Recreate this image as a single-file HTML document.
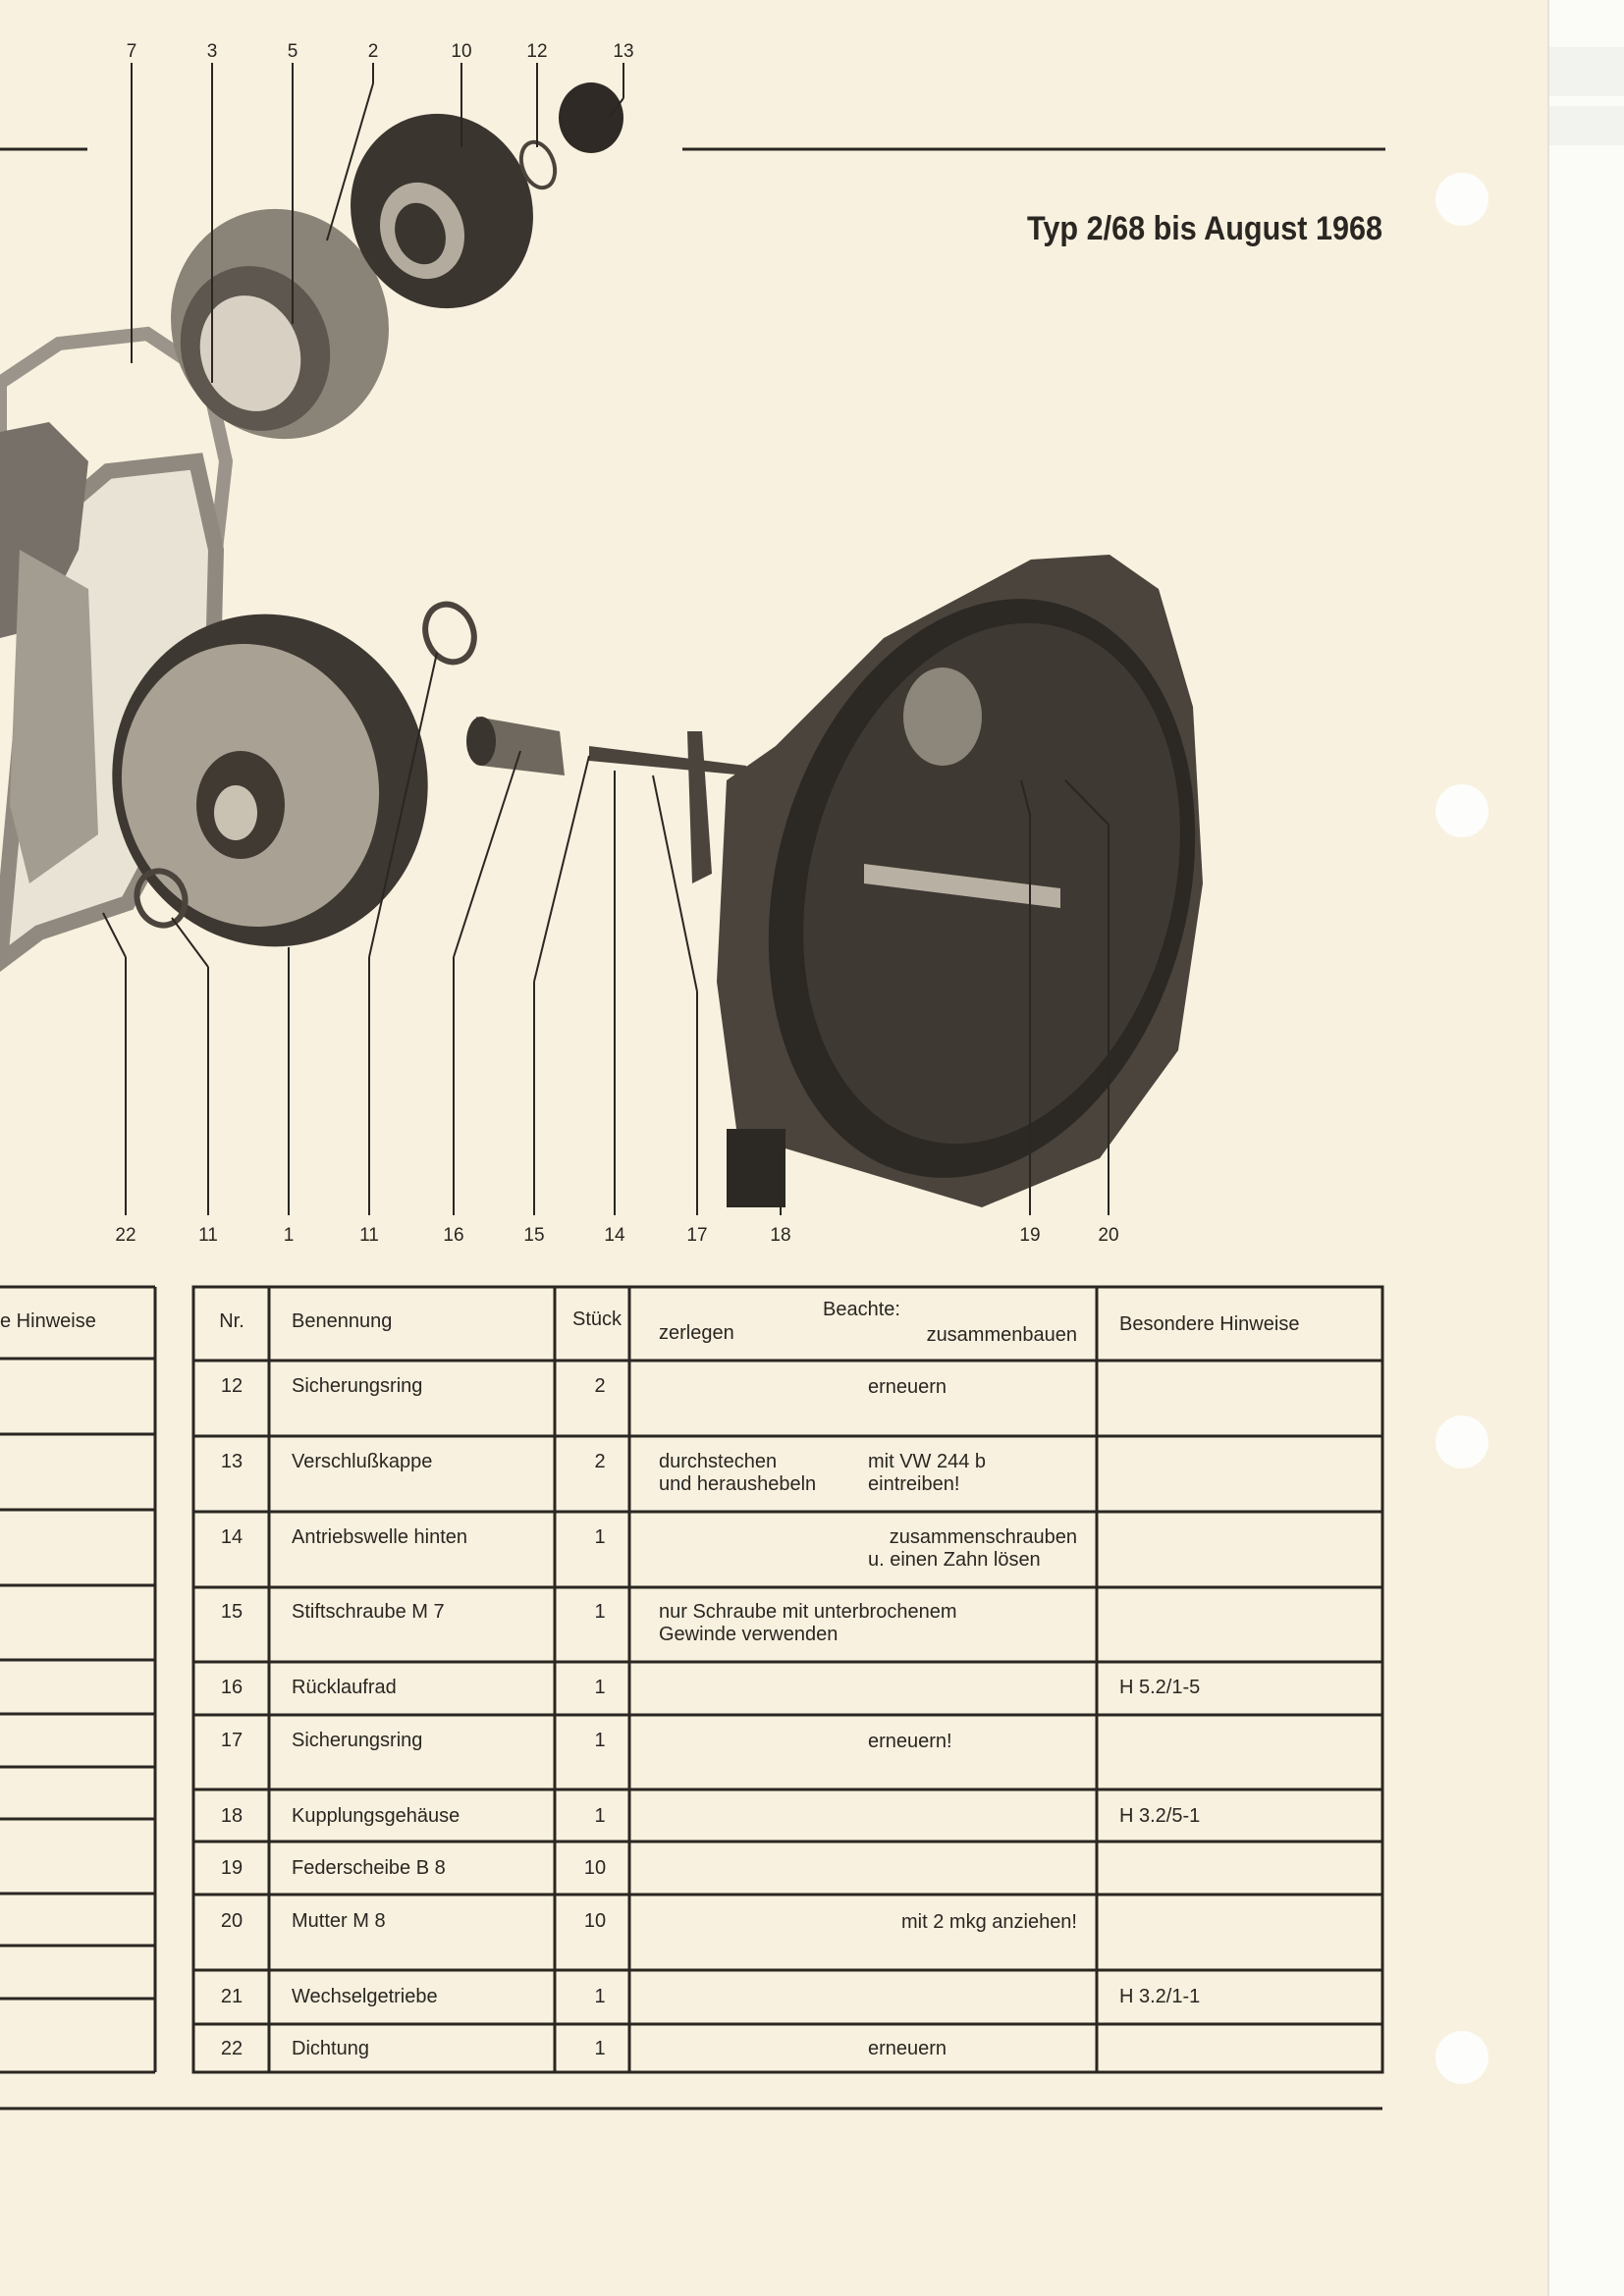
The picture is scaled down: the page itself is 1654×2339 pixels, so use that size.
<!DOCTYPE html>
<html><head><meta charset="utf-8"><style>
html,body{margin:0;padding:0;}
body{width:1654px;height:2339px;overflow:hidden;background:#f8f1df;}
svg{display:block;}
text{font-family:"Liberation Sans",sans-serif;fill:#2a2622;}
</style></head><body>
<svg width="1654" height="2339" viewBox="0 0 1654 2339" xmlns="http://www.w3.org/2000/svg">
<rect x="0" y="0" width="1654" height="2339" fill="#f8f1df"/>
<rect x="1577" y="0" width="77" height="2339" fill="#fbfbf8"/>
<rect x="1577" y="48" width="77" height="50" fill="#f2f2ee"/>
<rect x="1577" y="108" width="77" height="40" fill="#f2f2ee"/>
<line x1="1577" y1="0" x2="1577" y2="2339" stroke="#e8e2d4" stroke-width="2"/>
<circle cx="1489" cy="203" r="27" fill="#fdfdfb"/>
<circle cx="1489" cy="826" r="27" fill="#fdfdfb"/>
<circle cx="1489" cy="1469" r="27" fill="#fdfdfb"/>
<circle cx="1489" cy="2096" r="27" fill="#fdfdfb"/>

<!-- top rules -->
<line x1="0" y1="152" x2="89" y2="152" stroke="#2a2622" stroke-width="3"/>
<line x1="695" y1="152" x2="1411" y2="152" stroke="#2a2622" stroke-width="3"/>
<text x="1408" y="244" font-size="34" font-weight="bold" text-anchor="end" textLength="362" lengthAdjust="spacingAndGlyphs">Typ 2/68 bis August 1968</text>

<!-- drawing: parts -->
<g>
 <!-- gaskets left -->
 <path d="M0,390 L60,350 L150,340 L210,380 L230,470 L220,560 L200,620 L130,640 L60,630 L0,620 Z" fill="none" stroke="#9a948a" stroke-width="14"/>
 <path d="M0,980 L40,540 L110,480 L200,470 L220,560 L215,760 L130,920 L40,950 Z" fill="#e9e3d6" stroke="#8f897f" stroke-width="16"/>
 <path d="M0,440 L50,430 L90,470 L80,560 L40,640 L0,650 Z" fill="#777068"/>
 <path d="M20,560 L90,600 L100,850 L30,900 L10,820 Z" fill="#a39c90"/>
 <!-- cover 5 -->
 <ellipse cx="285" cy="330" rx="110" ry="118" fill="#8a8378" transform="rotate(-20 285 330)"/>
 <ellipse cx="260" cy="355" rx="75" ry="85" fill="#5e574f" transform="rotate(-20 260 355)"/>
 <ellipse cx="255" cy="360" rx="50" ry="60" fill="#d8d1c3" transform="rotate(-20 255 360)"/>
 <!-- cover 10 -->
 <ellipse cx="450" cy="215" rx="92" ry="100" fill="#3a352f" transform="rotate(-20 450 215)"/>
 <ellipse cx="430" cy="235" rx="42" ry="50" fill="#b3ab9e" transform="rotate(-20 430 235)"/>
 <ellipse cx="428" cy="238" rx="25" ry="32" fill="#3a352f" transform="rotate(-20 428 238)"/>
 <!-- ring 12, cap 13 -->
 <ellipse cx="548" cy="168" rx="16" ry="24" fill="none" stroke="#4a443d" stroke-width="4" transform="rotate(-20 548 168)"/>
 <ellipse cx="602" cy="120" rx="33" ry="36" fill="#2f2a25"/>
 <!-- differential 1 -->
 <ellipse cx="275" cy="795" rx="160" ry="170" fill="#3e3832" transform="rotate(-15 275 795)"/>
 <ellipse cx="255" cy="800" rx="130" ry="145" fill="#a8a194" transform="rotate(-15 255 800)"/>
 <ellipse cx="245" cy="820" rx="45" ry="55" fill="#403a33"/>
 <ellipse cx="240" cy="828" rx="22" ry="28" fill="#c9c1b2"/>
 <!-- rings 11 -->
 <ellipse cx="458" cy="645" rx="24" ry="30" fill="none" stroke="#4a443d" stroke-width="6" transform="rotate(-20 458 645)"/>
 <ellipse cx="164" cy="915" rx="24" ry="28" fill="none" stroke="#4a443d" stroke-width="6" transform="rotate(-20 164 915)"/>
 <!-- gear 16 -->
 <path d="M485,730 L570,745 L575,790 L490,780 Z" fill="#6f685e"/>
 <ellipse cx="490" cy="755" rx="15" ry="25" fill="#3a352f"/>
 <!-- shaft 14/17 -->
 <path d="M600,760 L760,780 L760,790 L600,775 Z" fill="#4a443d"/>
 <path d="M700,745 L715,745 L725,890 L705,900 Z" fill="#4a443d"/>
 <!-- bell housing -->
 <path d="M740,795 L790,760 L900,650 L1050,570 L1130,565 L1180,600 L1215,720 L1225,900 L1200,1070 L1120,1180 L1000,1230 L900,1200 L800,1170 L750,1150 L730,1000 Z" fill="#4a443d"/>
 <ellipse cx="1000" cy="905" rx="210" ry="300" fill="#2c2823" transform="rotate(15 1000 905)"/>
 <ellipse cx="1010" cy="900" rx="185" ry="270" fill="#3f3933" transform="rotate(15 1010 900)"/>
 <path d="M880,880 L1080,905 L1080,925 L880,900 Z" fill="#b8b0a2"/>
 <ellipse cx="960" cy="730" rx="40" ry="50" fill="#8d867a"/>
 <rect x="740" y="1150" width="60" height="80" fill="#2c2823"/>
</g>

<!-- leader lines -->
<g stroke="#2a2622" stroke-width="2" fill="none">
 <line x1="134" y1="64" x2="134" y2="370"/>
 <line x1="216" y1="64" x2="216" y2="390"/>
 <line x1="298" y1="64" x2="298" y2="330"/>
 <line x1="380" y1="64" x2="380" y2="85"/><line x1="380" y1="85" x2="333" y2="245"/>
 <line x1="470" y1="64" x2="470" y2="150"/>
 <line x1="547" y1="64" x2="547" y2="150"/>
 <line x1="635" y1="64" x2="635" y2="100"/><line x1="635" y1="100" x2="620" y2="120"/>
 <line x1="128" y1="1238" x2="128" y2="975"/><line x1="128" y1="975" x2="105" y2="930"/>
 <line x1="212" y1="1238" x2="212" y2="985"/><line x1="212" y1="985" x2="175" y2="935"/>
 <line x1="294" y1="1238" x2="294" y2="965"/>
 <line x1="376" y1="1238" x2="376" y2="975"/><line x1="376" y1="975" x2="445" y2="665"/>
 <line x1="462" y1="1238" x2="462" y2="975"/><line x1="462" y1="975" x2="530" y2="765"/>
 <line x1="544" y1="1238" x2="544" y2="1000"/><line x1="544" y1="1000" x2="600" y2="770"/>
 <line x1="626" y1="1238" x2="626" y2="785"/>
 <line x1="710" y1="1238" x2="710" y2="1010"/><line x1="710" y1="1010" x2="665" y2="790"/>
 <line x1="795" y1="1238" x2="795" y2="1170"/>
 <line x1="1049" y1="1238" x2="1049" y2="830"/><line x1="1049" y1="830" x2="1040" y2="795"/>
 <line x1="1129" y1="1238" x2="1129" y2="840"/><line x1="1129" y1="840" x2="1085" y2="795"/>
</g>
<g font-size="19" text-anchor="middle">
 <text x="134" y="58">7</text><text x="216" y="58">3</text><text x="298" y="58">5</text><text x="380" y="58">2</text><text x="470" y="58">10</text><text x="547" y="58">12</text><text x="635" y="58">13</text>
 <text x="128" y="1264">22</text><text x="212" y="1264">11</text><text x="294" y="1264">1</text><text x="376" y="1264">11</text><text x="462" y="1264">16</text><text x="544" y="1264">15</text><text x="626" y="1264">14</text><text x="710" y="1264">17</text><text x="795" y="1264">18</text><text x="1049" y="1264">19</text><text x="1129" y="1264">20</text>
</g>

<!-- left partial table -->
<g stroke="#2a2622" stroke-width="3">
 <line x1="0" y1="1311" x2="158" y2="1311"/>
 <line x1="158" y1="1311" x2="158" y2="2111"/>
 <line x1="0" y1="2111" x2="158" y2="2111"/>
 <line x1="0" y1="1384" x2="158" y2="1384"/>
 <line x1="0" y1="1461" x2="158" y2="1461"/>
 <line x1="0" y1="1538" x2="158" y2="1538"/>
 <line x1="0" y1="1615" x2="158" y2="1615"/>
 <line x1="0" y1="1691" x2="158" y2="1691"/>
 <line x1="0" y1="1746" x2="158" y2="1746"/>
 <line x1="0" y1="1800" x2="158" y2="1800"/>
 <line x1="0" y1="1853" x2="158" y2="1853"/>
 <line x1="0" y1="1929" x2="158" y2="1929"/>
 <line x1="0" y1="1982" x2="158" y2="1982"/>
 <line x1="0" y1="2036" x2="158" y2="2036"/>
</g>
<text x="0" y="1352" font-size="20">e Hinweise</text>

<!-- main table -->
<g stroke="#2a2622" stroke-width="3" fill="none">
 <rect x="197" y="1311" width="1211" height="800"/>
 <line x1="274" y1="1311" x2="274" y2="2111"/>
 <line x1="565" y1="1311" x2="565" y2="2111"/>
 <line x1="641" y1="1311" x2="641" y2="2111"/>
 <line x1="1117" y1="1311" x2="1117" y2="2111"/>
 <line x1="197" y1="1386" x2="1408" y2="1386"/>
 <line x1="197" y1="1463" x2="1408" y2="1463"/>
 <line x1="197" y1="1540" x2="1408" y2="1540"/>
 <line x1="197" y1="1617" x2="1408" y2="1617"/>
 <line x1="197" y1="1693" x2="1408" y2="1693"/>
 <line x1="197" y1="1747" x2="1408" y2="1747"/>
 <line x1="197" y1="1823" x2="1408" y2="1823"/>
 <line x1="197" y1="1876" x2="1408" y2="1876"/>
 <line x1="197" y1="1930" x2="1408" y2="1930"/>
 <line x1="197" y1="2007" x2="1408" y2="2007"/>
 <line x1="197" y1="2062" x2="1408" y2="2062"/>
 <line x1="0" y1="2148" x2="1408" y2="2148"/>
</g>
<g font-size="20">
 <text x="236" y="1352" text-anchor="middle">Nr.</text>
 <text x="297" y="1352">Benennung</text>
 <text x="608" y="1350" text-anchor="middle">Stück</text>
 <text x="838" y="1340">Beachte:</text>
 <text x="671" y="1364">zerlegen</text>
 <text x="1097" y="1366" text-anchor="end">zusammenbauen</text>
 <text x="1140" y="1355">Besondere Hinweise</text>

 <text x="236" y="1418" text-anchor="middle">12</text><text x="297" y="1418">Sicherungsring</text><text x="611" y="1418" text-anchor="middle">2</text><text x="884" y="1419">erneuern</text>
 <text x="236" y="1495" text-anchor="middle">13</text><text x="297" y="1495">Verschlußkappe</text><text x="611" y="1495" text-anchor="middle">2</text><text x="671" y="1495">durchstechen</text><text x="884" y="1495">mit VW 244 b</text><text x="671" y="1518">und heraushebeln</text><text x="884" y="1518">eintreiben!</text>
 <text x="236" y="1572" text-anchor="middle">14</text><text x="297" y="1572">Antriebswelle hinten</text><text x="611" y="1572" text-anchor="middle">1</text><text x="1097" y="1572" text-anchor="end">zusammenschrauben</text><text x="884" y="1595">u. einen Zahn lösen</text>
 <text x="236" y="1648" text-anchor="middle">15</text><text x="297" y="1648">Stiftschraube M 7</text><text x="611" y="1648" text-anchor="middle">1</text><text x="671" y="1648">nur Schraube mit unterbrochenem</text><text x="671" y="1671">Gewinde verwenden</text>
 <text x="236" y="1725" text-anchor="middle">16</text><text x="297" y="1725">Rücklaufrad</text><text x="611" y="1725" text-anchor="middle">1</text><text x="1140" y="1725">H 5.2/1-5</text>
 <text x="236" y="1779" text-anchor="middle">17</text><text x="297" y="1779">Sicherungsring</text><text x="611" y="1779" text-anchor="middle">1</text><text x="884" y="1780">erneuern!</text>
 <text x="236" y="1856" text-anchor="middle">18</text><text x="297" y="1856">Kupplungsgehäuse</text><text x="611" y="1856" text-anchor="middle">1</text><text x="1140" y="1856">H 3.2/5-1</text>
 <text x="236" y="1909" text-anchor="middle">19</text><text x="297" y="1909">Federscheibe B 8</text><text x="606" y="1909" text-anchor="middle">10</text>
 <text x="236" y="1963" text-anchor="middle">20</text><text x="297" y="1963">Mutter M 8</text><text x="606" y="1963" text-anchor="middle">10</text><text x="1097" y="1964" text-anchor="end">mit 2 mkg anziehen!</text>
 <text x="236" y="2040" text-anchor="middle">21</text><text x="297" y="2040">Wechselgetriebe</text><text x="611" y="2040" text-anchor="middle">1</text><text x="1140" y="2040">H 3.2/1-1</text>
 <text x="236" y="2093" text-anchor="middle">22</text><text x="297" y="2093">Dichtung</text><text x="611" y="2093" text-anchor="middle">1</text><text x="884" y="2093">erneuern</text>
</g>
</svg>
</body></html>
